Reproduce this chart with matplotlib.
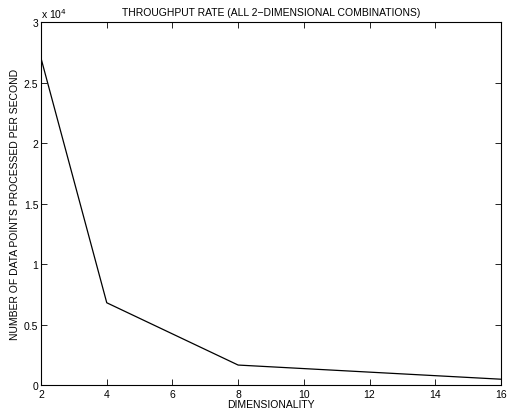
import numpy as np
import matplotlib
matplotlib.use("Agg")
import matplotlib.pyplot as plt

plt.rcParams['font.family'] = ['Liberation Sans', 'DejaVu Sans']
plt.rcParams['font.size'] = 7.5

# throughput vs dimensionality
dims = [2, 4, 8, 16]
rate = [27000, 6800, 1650, 480]

fig = plt.figure(figsize=(5.07, 4.14), dpi=100)
ax = fig.add_axes([0.081, 0.0676, 0.907, 0.8765])
ax.plot(dims, rate, color='k', linewidth=0.9)

ax.set_xlim(2, 16)
ax.set_ylim(0, 30000)
ax.set_xticks(np.arange(2, 17, 2))
ax.set_yticks(np.arange(0, 30001, 5000))
ax.set_yticklabels(['0', '0.5', '1', '1.5', '2', '2.5', '3'])
ax.tick_params(direction='in', top=True, right=True, length=4, width=0.6)
ax.tick_params(axis='x', pad=3)
ax.tick_params(axis='y', pad=2)
for s in ax.spines.values():
    s.set_linewidth(0.8)

ax.text(0.0, 1.006, r'x 10$^4$', transform=ax.transAxes, ha='left', va='bottom', fontsize=7.5)
ax.set_title('THROUGHPUT RATE (ALL 2\u2212DIMENSIONAL COMBINATIONS)', fontsize=7.5, pad=5)
ax.set_xlabel('DIMENSIONALITY', labelpad=0)
ax.set_ylabel('NUMBER OF DATA POINTS PROCESSED PER SECOND', labelpad=3)

fig.savefig('out.png', dpi=100)
